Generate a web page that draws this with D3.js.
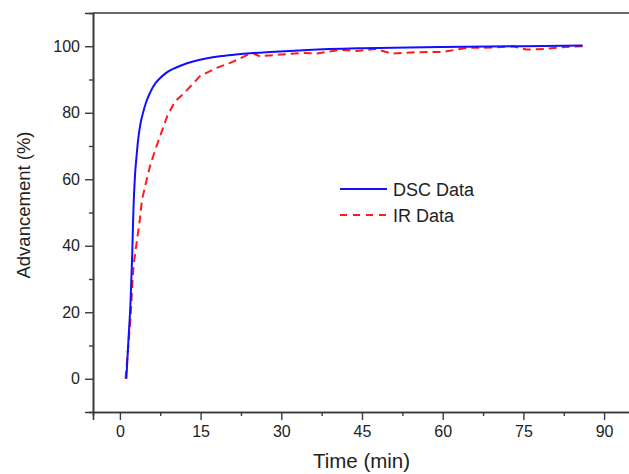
<!DOCTYPE html>
<html>
<head>
<meta charset="utf-8">
<script src="https://cdn.jsdelivr.net/npm/d3@7"></script>
<style>
  html, body { margin: 0; padding: 0; background: #fff; }
  svg { display: block; font-family: "Liberation Sans", Arial, sans-serif; }
</style>
</head>
<body>
<svg id="chart" width="629" height="474"></svg>
<script>
// ---- data ----
const dscTime = [1.2, 1.6, 2.0, 2.3, 2.5, 2.8, 3.1, 3.4, 3.8, 4.3, 4.9, 5.6, 6.4, 7.4, 8.6, 9.9, 11.5, 13.6, 16, 18.6, 21.5, 24.2, 28, 35, 45, 60, 75, 86];
const dscAdv  = [0, 12, 24, 38, 50, 61, 67, 72, 76.5, 80, 83.3, 86, 88.4, 90.3, 92, 93.2, 94.3, 95.4, 96.3, 97, 97.5, 97.9, 98.3, 98.9, 99.4, 99.8, 100, 100.2];

const irTime = [1.05, 1.7, 2.0, 2.35, 2.6, 3.1, 3.7, 4.1, 5.0, 5.6, 6.6, 7.7, 8.8, 10.2, 12.0, 14.9, 18, 20.5, 22.3, 24.5, 26, 30, 34, 36.6, 41, 44, 47.5, 50.5, 55, 60, 64.5, 69, 73, 75.6, 78.8, 82, 86];
const irAdv  = [0, 12.7, 18.7, 29.8, 34.8, 40.8, 47.8, 53.8, 60, 64, 69, 74, 79, 83.3, 86, 91, 93.5, 95, 96.3, 98, 97, 97.5, 98, 97.8, 98.9, 98.6, 99.2, 97.8, 98.2, 98.3, 99.5, 99.6, 100, 99, 99.2, 99.7, 100];

const xMajorTicks = [0, 15, 30, 45, 60, 75, 90];
const xMinorTicks = [7.5, 22.5, 37.5, 52.5, 67.5, 82.5];
const yMajorTicks = [0, 20, 40, 60, 80, 100];
const yMinorTicks = [10, 30, 50, 70, 90];

const seriesNames = ["DSC Data", "IR Data"];
const xTitle = "Time (min)";
const yTitle = "Advancement (%)";

// ---- drawing ----
const svg = d3.select("#chart");
const axisColor = "#3a3a3a";
const textColor = "#222";

const x = d3.scaleLinear().domain([-5, 95]).range([93, 631]);
const y = d3.scaleLinear().domain([-10, 110]).range([412, 13]);

// frame top line
svg.append("line")
  .attr("x1", x(-5)).attr("x2", x(95))
  .attr("y1", y(110)).attr("y2", y(110))
  .attr("stroke", axisColor).attr("stroke-width", 1.6);

// x axis
const xAxis = svg.append("g").attr("transform", `translate(0,${y(-10)})`)
  .call(d3.axisBottom(x).tickValues(xMajorTicks).tickSize(8).tickPadding(6).tickFormat(d3.format("d")));
const xMinor = svg.append("g").attr("transform", `translate(0,${y(-10)})`)
  .call(d3.axisBottom(x).tickValues(xMinorTicks).tickSize(4).tickFormat(""));

// y axis
const yAxis = svg.append("g").attr("transform", `translate(${x(-5)},0)`)
  .call(d3.axisLeft(y).tickValues(yMajorTicks).tickSize(8).tickPadding(5).tickFormat(d3.format("d")));
const yMinor = svg.append("g").attr("transform", `translate(${x(-5)},0)`)
  .call(d3.axisLeft(y).tickValues(yMinorTicks).tickSize(4).tickFormat(""));

[xAxis, xMinor, yAxis, yMinor].forEach(g => {
  g.select(".domain").attr("stroke", axisColor).attr("stroke-width", 1.6);
  g.selectAll(".tick line").attr("stroke", axisColor).attr("stroke-width", 1.4);
  g.selectAll(".tick text").attr("fill", textColor).style("font-size", "16px")
    .style("font-family", "'Liberation Sans', Arial, sans-serif");
});

// titles
svg.append("text")
  .attr("x", 361.5).attr("y", 468)
  .attr("text-anchor", "middle")
  .attr("fill", textColor)
  .style("font-size", "20.5px")
  .text(xTitle);

svg.append("text")
  .attr("transform", `translate(30,${205}) rotate(-90)`)
  .attr("text-anchor", "middle")
  .attr("fill", textColor)
  .style("font-size", "18.5px")
  .text(yTitle);

// lines
const dscData = dscTime.map((t, i) => [t, dscAdv[i]]);
const irData = irTime.map((t, i) => [t, irAdv[i]]);

const smoothLine = d3.line().x(d => x(d[0])).y(d => y(d[1])).curve(d3.curveMonotoneX);
const straightLine = d3.line().x(d => x(d[0])).y(d => y(d[1]));

svg.append("path")
  .datum(irData)
  .attr("d", straightLine)
  .attr("fill", "none")
  .attr("stroke", "#ff1a1a")
  .attr("stroke-width", 2)
  .attr("stroke-dasharray", "8,5");

svg.append("path")
  .datum(dscData)
  .attr("d", smoothLine)
  .attr("fill", "none")
  .attr("stroke", "#1010ff")
  .attr("stroke-width", 2);

// legend
const legend = svg.append("g");
const legendItems = [
  { name: seriesNames[0], color: "#1010ff", dash: null, yPos: 189 },
  { name: seriesNames[1], color: "#ff1a1a", dash: "7,6", yPos: 215 }
];
legendItems.forEach(it => {
  legend.append("line")
    .attr("x1", 340).attr("x2", 387)
    .attr("y1", it.yPos).attr("y2", it.yPos)
    .attr("stroke", it.color).attr("stroke-width", 2)
    .attr("stroke-dasharray", it.dash);
  legend.append("text")
    .attr("x", 393).attr("y", it.yPos + 6.5)
    .attr("fill", textColor)
    .style("font-size", "18px")
    .text(it.name);
});
</script>
</body>
</html>
